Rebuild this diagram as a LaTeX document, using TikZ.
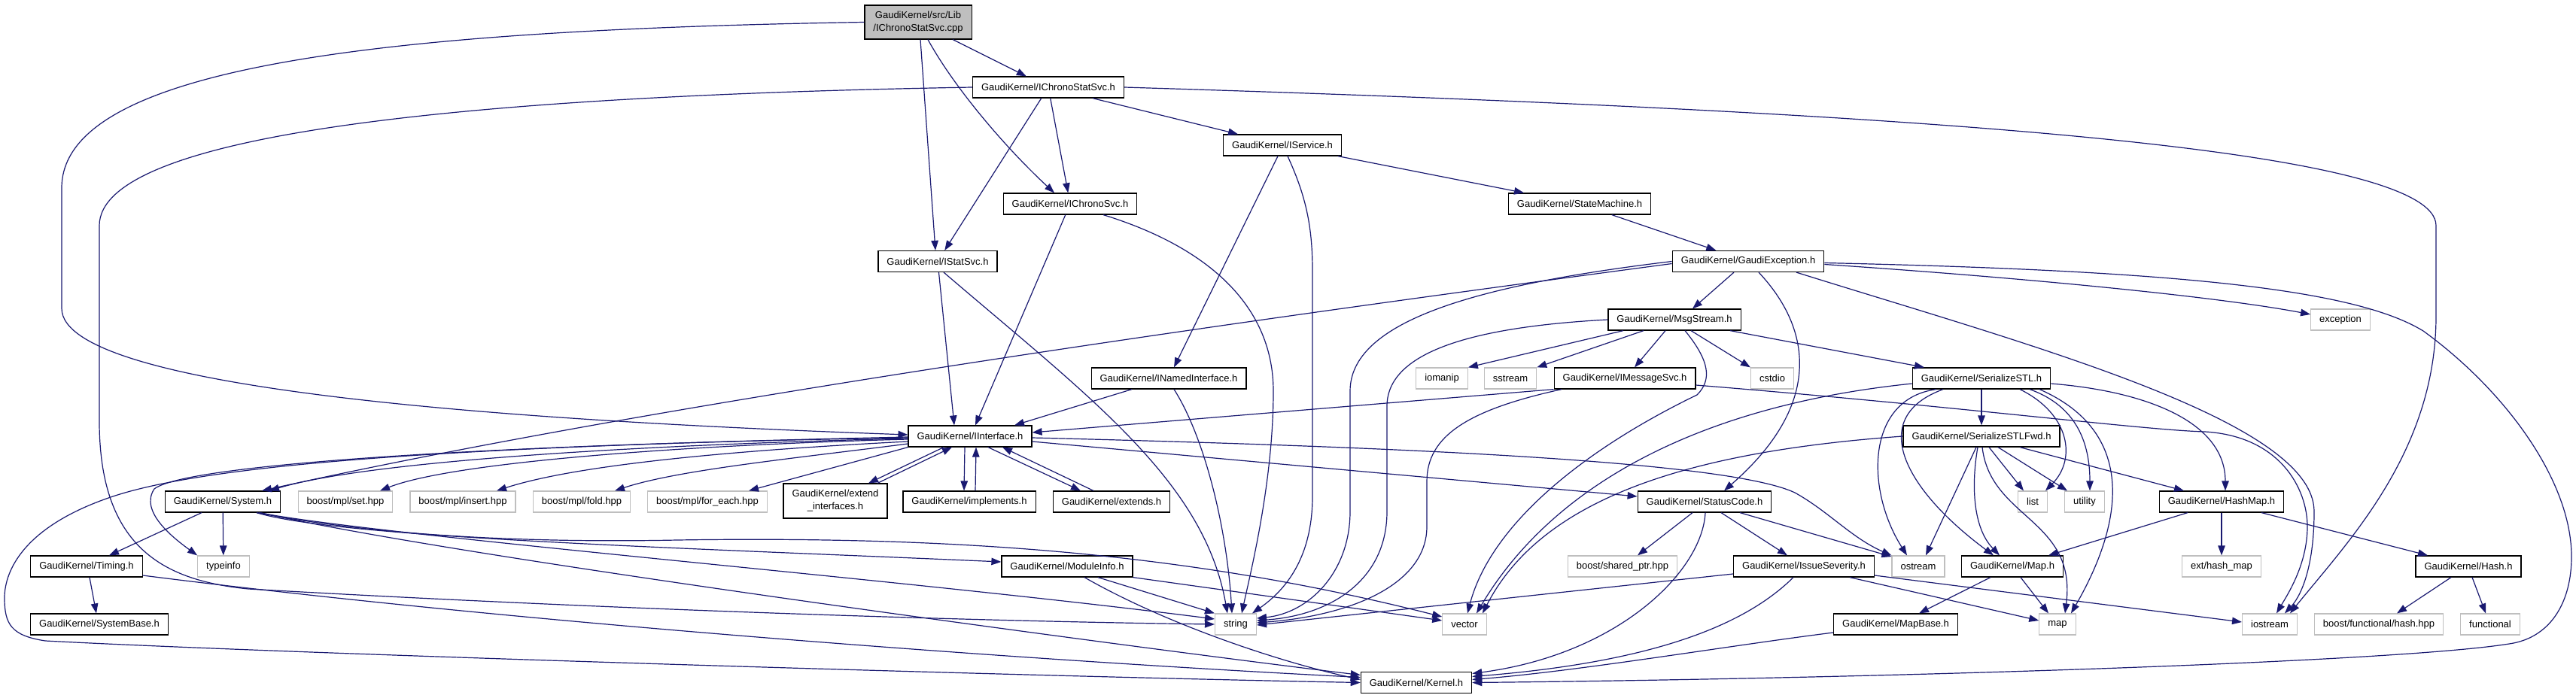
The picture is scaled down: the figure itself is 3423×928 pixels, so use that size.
\documentclass[tikz,border=0pt]{standalone}
\usepackage{fontspec}
\setmainfont{Liberation Sans}
\usetikzlibrary{arrows.meta}
\definecolor{edgeblue}{RGB}{25,25,112}
\definecolor{extgrey}{RGB}{191,191,191}
\definecolor{rootgrey}{RGB}{191,191,191}
\tikzset{
  hdr/.style={draw=black, fill=white, line width=1.2pt, minimum height=28pt,
    inner xsep=11.5pt, inner ysep=2pt, font=\fontsize{13}{17}\selectfont},
  sys/.style={hdr, draw=extgrey},
  dep/.style={draw=edgeblue, line width=1.2pt, -{Triangle[length=13pt,width=9.5pt]}},
}
\begin{document}
\begin{tikzpicture}[x=1pt,y=-1pt]
\useasboundingbox (0,0) rectangle (3423,928);

		\node[hdr, fill=rootgrey, align=center, minimum height=45pt] (cpp) at (1220,29.5) {GaudiKernel/src/Lib\\/IChronoStatSvc.cpp};
		\node[hdr] (ichronostat) at (1393,116) {GaudiKernel/IChronoStatSvc.h};
		\node[hdr] (iservice) at (1704,193) {GaudiKernel/IService.h};
		\node[hdr] (ichrono) at (1422,271) {GaudiKernel/IChronoSvc.h};
		\node[hdr] (statemachine) at (2099,271) {GaudiKernel/StateMachine.h};
		\node[hdr] (istat) at (1246,347.5) {GaudiKernel/IStatSvc.h};
		\node[hdr] (gexception) at (2323,347.5) {GaudiKernel/GaudiException.h};
		\node[hdr] (msgstream) at (2225,425) {GaudiKernel/MsgStream.h};
		\node[sys] (exception) at (3110,425) {exception};

		\node[hdr] (inamed) at (1553,503) {GaudiKernel/INamedInterface.h};
		\node[sys] (iomanip) at (1916,503) {iomanip};
		\node[sys] (sstream) at (2007,503) {sstream};
		\node[hdr] (imsgsvc) at (2159,503) {GaudiKernel/IMessageSvc.h};
		\node[sys] (cstdio) at (2355,503) {cstdio};
		\node[hdr] (sstl) at (2633,503) {GaudiKernel/SerializeSTL.h};
		\node[hdr] (iinterface) at (1289,580) {GaudiKernel/IInterface.h};
		\node[hdr] (sstlfwd) at (2633,580) {GaudiKernel/SerializeSTLFwd.h};

		\node[hdr] (system) at (296,667) {GaudiKernel/System.h};
		\node[sys] (mplset) at (459,667) {boost/mpl/set.hpp};
		\node[sys] (mplinsert) at (615,667) {boost/mpl/insert.hpp};
		\node[sys] (mplfold) at (773,667) {boost/mpl/fold.hpp};
		\node[sys] (mplforeach) at (940,667) {boost/mpl/for\_each.hpp};
		\node[hdr, align=center, minimum height=46pt] (extendif) at (1110,666) {GaudiKernel/extend\\\_interfaces.h};
		\node[hdr] (implements) at (1288,667) {GaudiKernel/implements.h};
		\node[hdr] (extends) at (1477,667) {GaudiKernel/extends.h};
		\node[hdr] (statuscode) at (2265,667) {GaudiKernel/StatusCode.h};
		\node[sys] (list) at (2701,667) {list};
		\node[sys] (utility) at (2770,667) {utility};
		\node[hdr] (hashmap) at (2952,667) {GaudiKernel/HashMap.h};

		\node[hdr] (timing) at (115,753) {GaudiKernel/Timing.h};
		\node[sys] (typeinfo) at (297,753) {typeinfo};
		\node[hdr] (moduleinfo) at (1418,753) {GaudiKernel/ModuleInfo.h};
		\node[sys] (sharedptr) at (2156,753) {boost/shared\_ptr.hpp};
		\node[hdr] (issuesev) at (2397,753) {GaudiKernel/IssueSeverity.h};
		\node[sys] (ostream) at (2549,753) {ostream};
		\node[hdr] (mapH) at (2674,753) {GaudiKernel/Map.h};
		\node[sys] (hashmapext) at (2952,753) {ext/hash\_map};
		\node[hdr] (hashH) at (3280,753) {GaudiKernel/Hash.h};

		\node[hdr] (systembase) at (132,830) {GaudiKernel/SystemBase.h};
		\node[sys] (string) at (1642,830) {string};
		\node[sys] (vector) at (1946,830) {vector};
		\node[hdr] (mapbase) at (2519,830) {GaudiKernel/MapBase.h};
		\node[sys] (map) at (2734,830) {map};
		\node[sys] (iostream) at (3016,830) {iostream};
		\node[sys] (hashhpp) at (3161,830) {boost/functional/hash.hpp};
		\node[sys] (functional) at (3309,830) {functional};
		\node[hdr] (kernel) at (1882,907.5) {GaudiKernel/Kernel.h};

		\draw[dep] (cpp) -- (ichronostat);
		\draw[dep] ([xshift=3pt]cpp.south) -- ([xshift=-3pt]istat.north);
		\draw[dep] ([xshift=13pt]cpp.south) .. controls (1270,120) and (1340,200) .. ([xshift=-21pt]ichrono.north);
		\draw[dep] (cpp.west) .. controls (500,40) and (82,90) .. (82,250) -- (82,410) .. controls (82,520) and (700,560) .. ([yshift=2pt]iinterface.west);

		\draw[dep] (ichronostat) -- (istat);
		\draw[dep] (ichronostat) -- (ichrono);
		\draw[dep] (ichronostat) -- (iservice);
		\draw[dep] (ichronostat.west) .. controls (600,128) and (132,180) .. (132,300) -- (132,560) .. controls (132,730) and (220,772) .. (330,783) .. controls (800,810) and (1300,826) .. (string.west);
		\draw[dep] (ichronostat.east) .. controls (2600,150) and (3237,200) .. (3237,300) -- (3237,420) .. controls (3237,600) and (3120,720) .. ([xshift=27pt]iostream.north);

		\draw[dep] (ichrono) -- ([xshift=7pt]iinterface.north);
		\draw[dep] ([xshift=44pt]ichrono.south) .. controls (1610,330) and (1692,410) .. (1692,520) .. controls (1692,640) and (1662,760) .. ([xshift=8pt]string.north);
		\draw[dep] (istat) -- ([xshift=-21pt]iinterface.north);
		\draw[dep] ([xshift=8pt]istat.south) .. controls (1450,530) and (1600,640) .. ([xshift=-11pt]string.north);

		\draw[dep] ([xshift=-6pt]iservice.south) -- ([xshift=7pt]inamed.north);
		\draw[dep] ([xshift=7pt]iservice.south) .. controls (1735,260) and (1744,300) .. (1744,360) -- (1744,660) .. controls (1744,750) and (1700,790) .. ([xshift=22pt]string.north);
		\draw[dep] (iservice) -- (statemachine);
		\draw[dep] (statemachine) -- (gexception);

		\draw[dep] ([xshift=-19pt]gexception.south) -- ([xshift=24pt]msgstream.north);
		\draw[dep] ([yshift=-3pt]gexception.west) .. controls (1700,420) and (900,530) .. ([xshift=52pt]system.north);
		\draw[dep] (gexception.west) .. controls (1950,380) and (1794,430) .. (1794,520) -- (1794,680) .. controls (1794,760) and (1740,815) .. ([yshift=8pt]string.east);
		\draw[dep] ([xshift=14pt]gexception.south) .. controls (2410,440) and (2420,540) .. ([xshift=26pt]statuscode.north);
		\draw[dep] ([yshift=-4pt]gexception.east) .. controls (2700,370) and (2950,395) .. (exception.170);
		\draw[dep] ([yshift=-2pt]gexception.east) .. controls (2900,360) and (3130,385) .. (3220,440) .. controls (3330,520) and (3417,640) .. (3417,740) .. controls (3417,800) and (3390,845) .. (3340,855) .. controls (3200,880) and (2500,902) .. (kernel.east);
		\draw[dep] ([xshift=64pt]gexception.south) .. controls (2700,460) and (3075,560) .. (3075,680) .. controls (3075,760) and (3055,795) .. ([xshift=20pt]iostream.north);

		\draw[dep] ([xshift=-68pt]msgstream.south) -- (iomanip.north east);
		\draw[dep] ([xshift=-41pt]msgstream.south) -- (sstream.north east);
		\draw[dep] ([xshift=-12pt]msgstream.south) -- ([xshift=13pt]imsgsvc.north);
		\draw[dep] ([xshift=22pt]msgstream.south) -- (cstdio.north west);
		\draw[dep] ([xshift=74pt]msgstream.south) -- ([xshift=-76pt]sstl.north);
		\draw[dep] ([xshift=14pt]msgstream.south) .. controls (2272,480) and (2275,505) .. (2255,525) .. controls (2100,600) and (1980,700) .. ([xshift=4pt]vector.north);
		\draw[dep] (msgstream.west) .. controls (1950,435) and (1843,470) .. (1843,540) -- (1843,680) .. controls (1843,770) and (1770,818) .. ([yshift=5pt]string.east);

		\draw[dep] (imsgsvc.south west) -- ([yshift=5pt]iinterface.east);
		\draw[dep] ([xshift=-84pt]imsgsvc.south) .. controls (1950,545) and (1896,580) .. (1896,640) -- (1896,700) .. controls (1896,775) and (1800,818) .. ([yshift=2pt]string.east);
		\draw[dep] ([yshift=-9pt]imsgsvc.east) .. controls (2600,540) and (2850,572) .. (2930,574) .. controls (3030,580) and (3066,650) .. (3066,700) .. controls (3066,750) and (3040,790) .. ([xshift=9pt]iostream.north);

		\draw[dep] ([xshift=-49pt]inamed.south) -- ([xshift=59pt]iinterface.north);
		\draw[dep] ([xshift=7pt]inamed.south) .. controls (1600,580) and (1630,700) .. ([xshift=-5pt]string.north);

		\draw[dep] (sstl) -- (sstlfwd);
		\draw[dep] ([yshift=-7pt]sstl.west) .. controls (2250,540) and (2060,650) .. ([xshift=16pt]vector.north);
		\draw[dep] ([xshift=-60pt]sstl.south) .. controls (2480,530) and (2478,650) .. ([xshift=-15pt]ostream.north);
		\draw[dep] ([xshift=-51pt]sstl.south) .. controls (2480,555) and (2530,650) .. ([xshift=-25pt]mapH.north);
		\draw[dep] ([xshift=51pt]sstl.south) .. controls (2750,550) and (2760,610) .. ([xshift=17pt]list.north);
		\draw[dep] ([xshift=64pt]sstl.south) .. controls (2760,540) and (2777,590) .. ([xshift=7pt]utility.north);
		\draw[dep] ([xshift=77pt]sstl.south) .. controls (2830,570) and (2830,680) .. ([xshift=18pt]map.north);
		\draw[dep] ([yshift=-7pt]sstl.east) .. controls (2850,520) and (2957,560) .. ([xshift=5pt]hashmap.north);

		\draw[dep] (sstlfwd.west) .. controls (2250,600) and (2050,660) .. ([xshift=24pt]vector.north);
		\draw[dep] ([xshift=-7pt]sstlfwd.south) -- ([xshift=10pt]ostream.north);
		\draw[dep] ([xshift=-5pt]sstlfwd.south) .. controls (2620,640) and (2620,700) .. ([xshift=-17pt]mapH.north);
		\draw[dep] ([xshift=1pt]sstlfwd.south) .. controls (2645,690) and (2760,690) .. ([xshift=10pt]map.north);
		\draw[dep] ([xshift=10pt]sstlfwd.south) -- ([xshift=-12pt]list.north);
		\draw[dep] ([xshift=22pt]sstlfwd.south) -- ([xshift=-23pt]utility.north);
		\draw[dep] ([xshift=51pt]sstlfwd.south) -- ([xshift=-50pt]hashmap.north);

		\draw[dep] ([xshift=-7pt]iinterface.south) -- ([xshift=-7pt]implements.north);
		\draw[dep] ([xshift=8pt]implements.north) -- ([xshift=8pt]iinterface.south);
		\draw[dep] ([xshift=24pt]iinterface.south) -- ([xshift=-41pt]extends.north);
		\draw[dep] ([xshift=-24pt]extends.north) -- ([xshift=43pt]iinterface.south);
		\draw[dep] ([xshift=-35pt]iinterface.south) -- ([xshift=44pt]extendif.north);
		\draw[dep] ([xshift=56pt]extendif.north) -- ([xshift=-24pt]iinterface.south);
		\draw[dep] (iinterface.south west) -- ([xshift=55pt]mplforeach.north);
		\draw[dep] ([yshift=-10pt]iinterface.west) .. controls (1050,610) and (900,625) .. ([xshift=44pt]mplfold.north);
		\draw[dep] ([yshift=-7pt]iinterface.west) .. controls (950,600) and (760,620) .. ([xshift=45pt]mplinsert.north);
		\draw[dep] ([yshift=-4pt]iinterface.west) .. controls (900,592) and (600,615) .. ([xshift=46pt]mplset.north);
		\draw[dep] ([yshift=-3pt]iinterface.west) .. controls (900,590) and (500,610) .. ([xshift=62pt]system.north);
		\draw[dep] ([yshift=-2pt]iinterface.west) .. controls (700,590) and (250,615) .. (205,650) .. controls (185,680) and (230,715) .. (typeinfo.north west);
		\draw[dep] ([yshift=-1pt]iinterface.west) .. controls (700,592) and (300,610) .. (150,660) .. controls (30,700) and (6,760) .. (6,795) .. controls (6,830) and (15,845) .. (60,852) .. controls (400,870) and (1400,900) .. (kernel.west);
		\draw[dep] ([yshift=-2pt]iinterface.east) .. controls (1900,595) and (2300,615) .. (2385,655) .. controls (2430,680) and (2460,715) .. (ostream.north west);
		\draw[dep] ([yshift=-7pt]iinterface.east) -- ([yshift=7pt]statuscode.west);

		\draw[dep] ([xshift=-16pt]statuscode.south) -- ([xshift=20pt]sharedptr.north);
		\draw[dep] ([xshift=22pt]statuscode.south) -- ([xshift=-22pt]issuesev.north);
		\draw[dep] ([xshift=47pt]statuscode.south) -- (ostream.160);
		\draw[dep] ([xshift=1pt]statuscode.south) .. controls (2262,760) and (2150,870) .. ([yshift=12pt]kernel.east);

		\draw[dep] ([yshift=-10pt]issuesev.west) -- ([yshift=-1pt]string.east);
		\draw[dep] ([xshift=-14pt]issuesev.south) .. controls (2320,830) and (2200,880) .. ([yshift=8pt]kernel.east);
		\draw[dep] ([xshift=61pt]issuesev.south) -- ([yshift=5pt]map.west);
		\draw[dep] ([yshift=-12pt]issuesev.east) -- ([yshift=3pt]iostream.west);

		\draw[dep] ([xshift=-28pt]system.south) -- ([xshift=30pt]timing.north);
		\draw[dep] (system) -- (typeinfo);
		\draw[dep] ([xshift=45pt]system.south) .. controls (450,715) and (900,728) .. ([yshift=6pt]moduleinfo.west);
		\draw[dep] ([xshift=45pt]system.south) .. controls (500,712) and (700,722) .. (900,718) .. controls (1300,712) and (1600,740) .. ([yshift=10pt]vector.west);
		\draw[dep] ([xshift=48pt]system.south) .. controls (500,712) and (1200,770) .. ([yshift=7pt]string.west);
		\draw[dep] ([xshift=50pt]system.south) .. controls (600,740) and (1500,860) .. ([yshift=10pt]kernel.west);

		\draw[dep] ([xshift=4pt]timing.south) -- ([xshift=-4pt]systembase.north);
		\draw[dep] ([yshift=-12pt]timing.east) .. controls (700,830) and (1400,880) .. ([yshift=7pt]kernel.west);

		\draw[dep] ([xshift=41pt]moduleinfo.south) -- (string.north west);
		\draw[dep] (moduleinfo.south east) -- ([yshift=5pt]vector.west);
		\draw[dep] ([xshift=23pt]moduleinfo.south) .. controls (1550,830) and (1700,880) .. ([yshift=4pt]kernel.west);

		\draw[dep] ([xshift=11pt]mapH.south) -- ([xshift=-12pt]map.north);
		\draw[dep] ([xshift=-29pt]mapH.south) -- ([xshift=31pt]mapbase.north);
		\draw[dep] ([yshift=-11pt]mapbase.west) .. controls (2300,858) and (2100,892) .. ([yshift=4pt]kernel.east);
		\draw[dep] ([xshift=-45pt]hashmap.south) -- ([xshift=48pt]mapH.north);
		\draw[dep] (hashmap) -- (hashmapext);
		\draw[dep] ([xshift=53pt]hashmap.south) -- ([xshift=-54pt]hashH.north);
		\draw[dep] ([xshift=-23pt]hashH.south) -- ([xshift=24pt]hashhpp.north);
		\draw[dep] ([xshift=5pt]hashH.south) -- ([xshift=-6pt]functional.north);
\end{tikzpicture}
\end{document}
